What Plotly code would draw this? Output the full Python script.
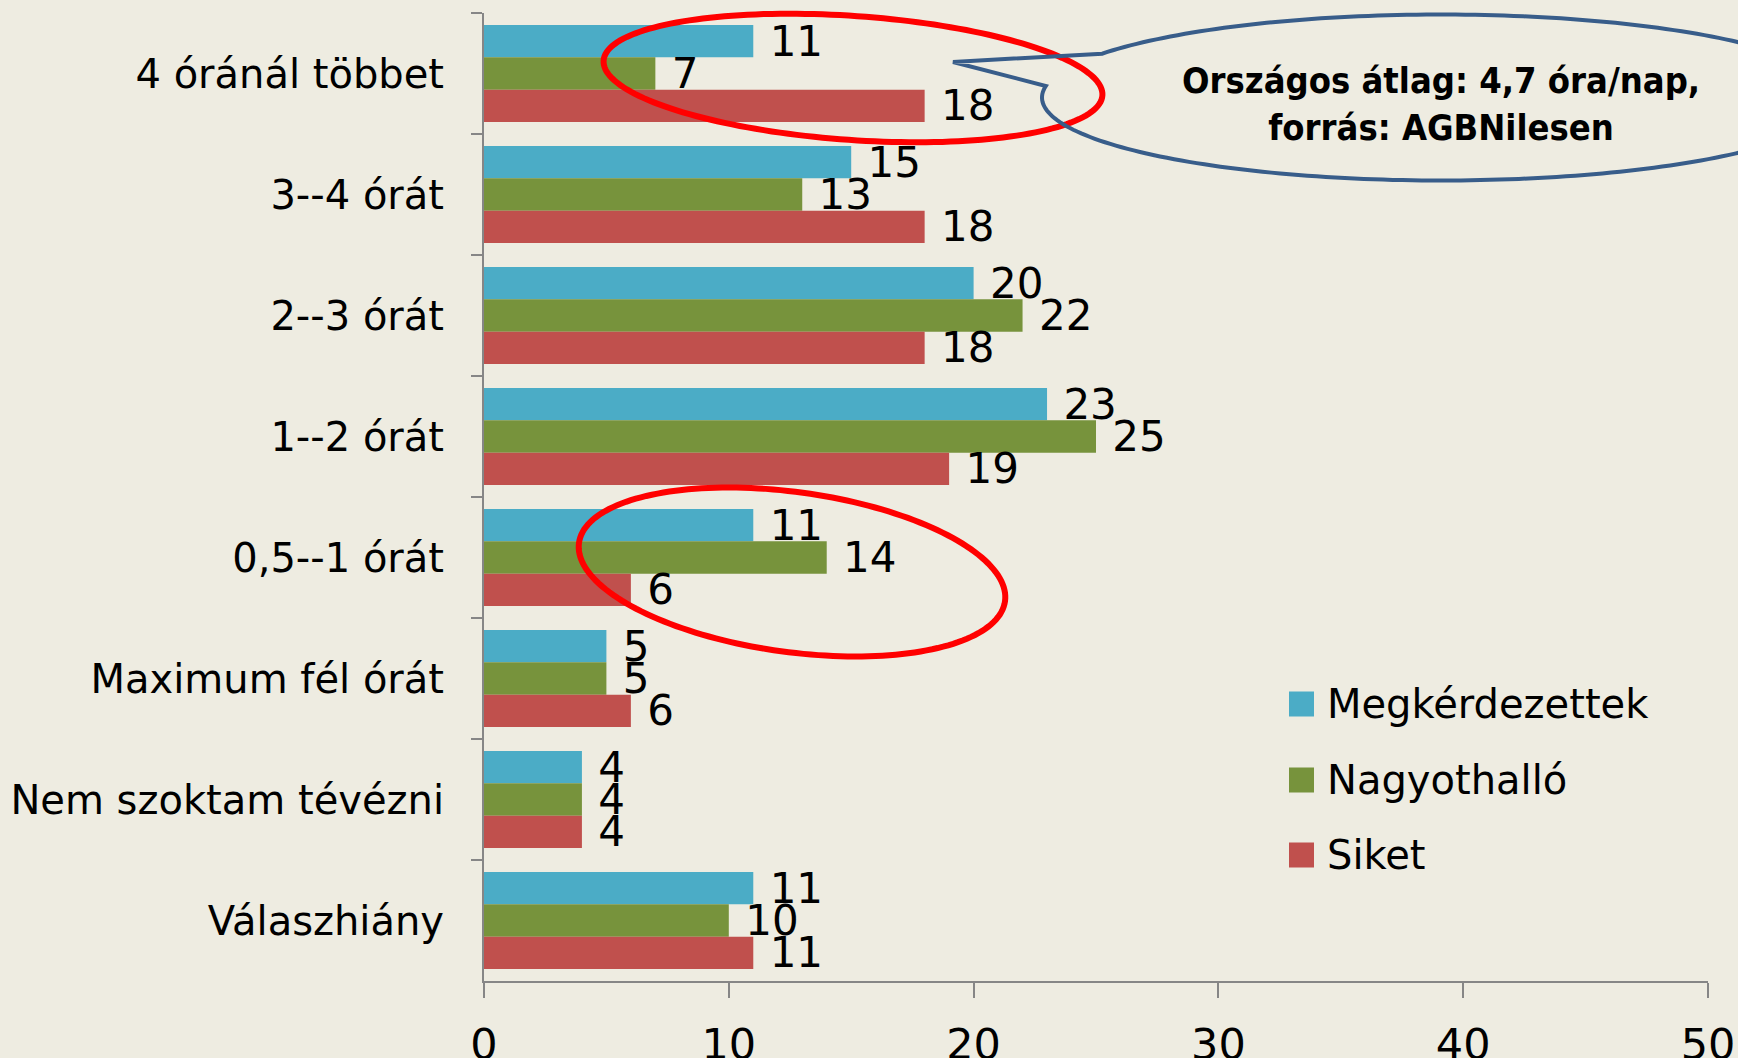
import numpy as np
import plotly.graph_objects as go

categories = ["4 óránál többet", "3--4 órát", "2--3 órát", "1--2 órát",
              "0,5--1 órát", "Maximum fél órát", "Nem szoktam tévézni", "Válaszhiány"]
series_names = ["Megkérdezettek", "Nagyothalló", "Siket"]
megkerdezettek = [11, 15, 20, 23, 11, 5, 4, 11]
nagyothallo = [7, 13, 22, 25, 14, 5, 4, 10]
siket = [18, 18, 18, 19, 6, 6, 4, 11]
x_ticks = [0, 10, 20, 30, 40, 50]
callout_text = "Országos átlag: 4,7 óra/nap,<br>forrás: AGBNilesen"

colors = ["#4bacc6", "#77933c", "#c0504d"]
BG = "#eeece1"
W, H = 1738, 1058
L, R, T, B = 484, 1708, 13, 981  # plot area in pixels


def px(x):
    return (x - L) / (R - L)


def py(y):
    return (B - y) / (B - T)


fig = go.Figure()
for name, vals, col in zip(series_names, [megkerdezettek, nagyothallo, siket], colors):
    fig.add_trace(go.Bar(
        y=categories, x=vals, name=name, orientation="h",
        marker=dict(color=col, line=dict(width=0)),
        text=vals, texttemplate=" %{x}", textposition="outside",
        constraintext="none", cliponaxis=False,
        textfont=dict(family="DejaVu Sans", size=42, color="black"),
        showlegend=False,
    ))


def ellipse_pts(cx, cy, a, b, theta_deg, t):
    th = np.deg2rad(theta_deg)
    x = cx + a * np.cos(t) * np.cos(th) - b * np.sin(t) * np.sin(th)
    y = cy + a * np.cos(t) * np.sin(th) + b * np.sin(t) * np.cos(th)
    return x, y


def path_from(xs, ys, close=True):
    s = "M " + " L ".join(f"{px(x):.5f},{py(y):.5f}" for x, y in zip(xs, ys))
    return s + (" Z" if close else "")


shapes = []
# red ellipses
for (cx, cy, a, b, th) in [(853, 78, 250, 62, 4), (792, 572, 215, 80, 7.8)]:
    t = np.linspace(0, 2 * np.pi, 181)
    xs, ys = ellipse_pts(cx, cy, a, b, th, t)
    shapes.append(dict(type="path", xref="paper", yref="paper",
                       path=path_from(xs, ys), line=dict(color="#ff0000", width=6),
                       fillcolor="rgba(0,0,0,0)", layer="above"))

# blue callout ellipse with tail
ccx, ccy, ca, cb = 1441, 97.5, 399, 83


def ang(xp, yp):
    return np.arctan2((yp - ccy) / cb, (xp - ccx) / ca)


t_up = ang(1097, 53)
t_lo = ang(1047, 86)
if t_up < 0:
    t_up += 2 * np.pi
if t_lo < 0:
    t_lo += 2 * np.pi
t = np.linspace(t_lo, t_up - 2 * np.pi, 241) if t_up > t_lo else np.linspace(t_lo, t_up, 241)
xs = list(ccx + ca * np.cos(t))
ys = list(ccy + cb * np.sin(t))
xs += [953]
ys += [62]
shapes.append(dict(type="path", xref="paper", yref="paper",
                   path=path_from(xs, ys), line=dict(color="#385d8a", width=4),
                   fillcolor="rgba(0,0,0,0)", layer="above"))

annotations = [dict(xref="paper", yref="paper", x=px(1441), y=py(104),
                    text=callout_text, showarrow=False, xanchor="center", yanchor="middle",
                    font=dict(family="Liberation Sans Narrow, Arial Narrow, DejaVu Sans Condensed",
                              size=36, color="black", weight="bold"))]

# manual legend
leg_y = [704, 780, 855]
for name, col, yy in zip(series_names, colors, leg_y):
    shapes.append(dict(type="rect", xref="paper", yref="paper",
                       x0=px(1289), x1=px(1314), y0=py(yy - 12.5), y1=py(yy + 12.5),
                       fillcolor=col, line=dict(width=0)))
    annotations.append(dict(xref="paper", yref="paper", x=px(1325), y=py(yy),
                            text=name, showarrow=False, xanchor="left", yanchor="middle",
                            font=dict(family="DejaVu Sans", size=40, color="black")))

fig.update_layout(
    width=W, height=H, autosize=False,
    margin=dict(l=L, r=W - R, t=T, b=H - B, pad=0, autoexpand=False),
    paper_bgcolor=BG, plot_bgcolor=BG,
    barmode="group", bargap=0.2, bargroupgap=0,
    shapes=shapes, annotations=annotations,
    showlegend=False,
    xaxis=dict(range=[0, 50], tickvals=x_ticks, ticks="outside", ticklen=15,
               tickcolor="#868686", tickwidth=1.5, showline=True, linecolor="#868686",
               linewidth=2, showgrid=False, zeroline=False, ticklabelstandoff=9,
               automargin=False,
               tickfont=dict(family="DejaVu Sans", size=43, color="black"), fixedrange=True),
    yaxis=dict(type="category", categoryorder="array", categoryarray=categories,
               autorange="reversed", tickson="boundaries", ticks="outside", ticklen=11,
               tickcolor="#868686", tickwidth=1.5, showline=True, linecolor="#868686",
               linewidth=2, showgrid=False, zeroline=False, ticklabelstandoff=30,
               automargin=False,
               tickfont=dict(family="DejaVu Sans", size=40, color="black")),
)

fig.write_html("out.html", config={"displayModeBar": False},
               post_script="document.body.style.margin='0';document.body.style.overflow='hidden';")
